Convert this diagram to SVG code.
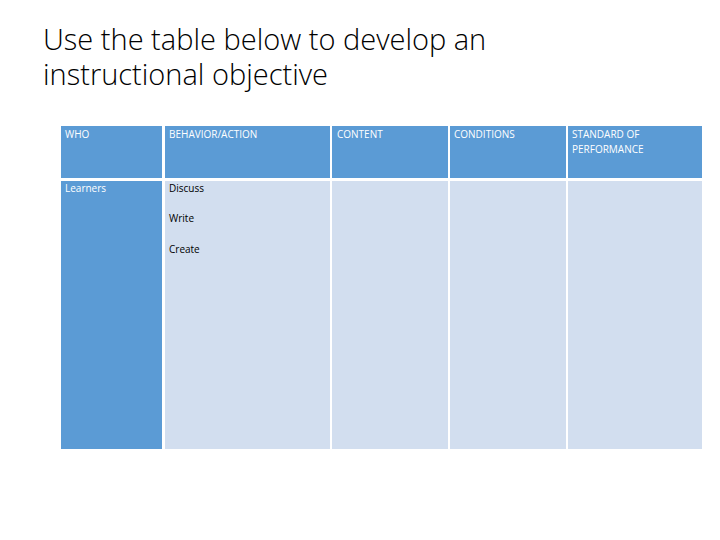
<svg xmlns="http://www.w3.org/2000/svg" width="720" height="540" viewBox="0 0 720 540">
<style>
.d{fill:#5b9bd5}.l{fill:#d2deef}
.h{font-family:"Open Sans","DejaVu Sans",sans-serif;font-size:10px;fill:#fff}
.b{font-family:"Open Sans","DejaVu Sans",sans-serif;font-size:10px;fill:#000}
.t{font-family:"Open Sans","Liberation Sans",sans-serif;font-size:29px;fill:#000;font-weight:300}
</style>
<rect width="720" height="540" fill="#fff"/>
<text class="t" x="43" y="50">Use the table below to develop an</text>
<text class="t" x="43" y="85">instructional objective</text>
<g id="table">
<rect class="d" x="61" y="126" width="101" height="52"/>
<rect class="d" x="165" y="126" width="165" height="52"/>
<rect class="d" x="332" y="126" width="116" height="52"/>
<rect class="d" x="450" y="126" width="116" height="52"/>
<rect class="d" x="568" y="126" width="134" height="52"/>
<rect class="d" x="61" y="181" width="101" height="268"/>
<rect class="l" x="165" y="181" width="165" height="268"/>
<rect class="l" x="332" y="181" width="116" height="268"/>
<rect class="l" x="450" y="181" width="116" height="268"/>
<rect class="l" x="568" y="181" width="134" height="268"/>
<text class="h" x="65" y="138">WHO</text>
<text class="h" x="169" y="138">BEHAVIOR/ACTION</text>
<text class="h" x="337" y="138">CONTENT</text>
<text class="h" x="454" y="138">CONDITIONS</text>
<text class="h" x="572" y="138">STANDARD OF</text>
<text class="h" x="572" y="153">PERFORMANCE</text>
<text class="h" x="65" y="192">Learners</text>
<text class="b" x="169" y="192">Discuss</text>
<text class="b" x="169" y="222">Write</text>
<text class="b" x="169" y="253">Create</text>
</g>
</svg>
